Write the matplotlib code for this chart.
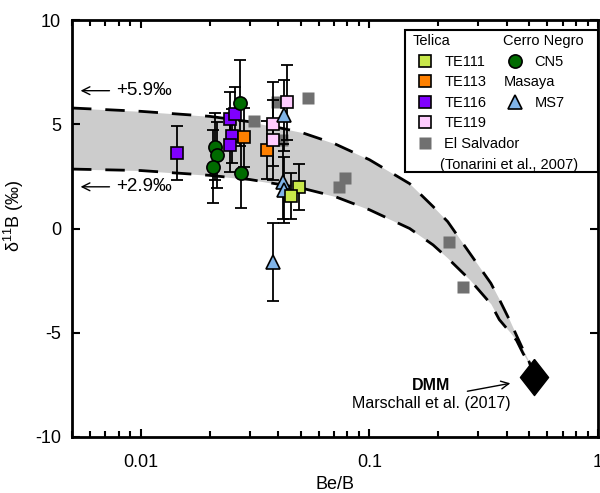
import matplotlib
matplotlib.use("Agg")
import matplotlib.pyplot as plt
from matplotlib.lines import Line2D
from matplotlib.patches import Rectangle
from matplotlib.ticker import FixedLocator, FixedFormatter, LogLocator, NullFormatter

plt.rcParams['font.family'] = ['Liberation Sans', 'DejaVu Sans']
plt.rcParams['mathtext.fontset'] = 'custom'
plt.rcParams['mathtext.rm'] = 'Liberation Sans'
plt.rcParams['mathtext.it'] = 'Liberation Sans:italic'
plt.rcParams['mathtext.bf'] = 'Liberation Sans:bold'

# mixing envelope
mix_x = [0.005, 0.01, 0.02, 0.03, 0.05, 0.07, 0.1, 0.15, 0.19, 0.22, 0.275,
         0.34, 0.37, 0.41, 0.44, 0.47, 0.5, 0.524]
mix_hi = [5.78, 5.62, 5.38, 5.12, 4.62, 4.08, 3.3, 2.15, 1.05, 0.33, -1.19,
          -2.63, -3.4, -4.39, -5.13, -5.81, -6.4, -7.05]
mix_lo = [2.85, 2.78, 2.55, 2.35, 1.95, 1.55, 0.9, 0.0, -0.79, -1.42, -2.46,
          -3.62, -4.37, -4.95, -5.36, -5.99, -6.5, -7.05]

# Telica
te111_x = [0.0493, 0.0456]
te111_y = [2.0, 1.57]
te111_err = [1.1, 1.1]
te113_x = [0.0283, 0.0355]
te113_y = [4.37, 3.77]
te113_err = [1.4, 1.4]
te116_x = [0.0144, 0.0245, 0.0257, 0.0250, 0.0245]
te116_y = [3.61, 5.24, 5.48, 4.44, 4.0]
te116_err = [1.3, 1.3, 1.3, 1.3, 1.3]
te119_x = [0.0438, 0.0379, 0.0377]
te119_y = [6.05, 5.01, 4.24]
te119_err = [1.8, 2.0, 1.9]
# Cerro Negro
cn5_x = [0.0211, 0.0215, 0.0206, 0.0272, 0.0275]
cn5_y = [3.92, 3.53, 2.96, 6.03, 2.68]
cn5_err = [1.6, 1.6, 1.75, 2.05, 1.7]
# Masaya
ms7_x = [0.0423, 0.0417, 0.0423, 0.038]
ms7_y = [5.44, 2.25, 1.85, -1.59]
ms7_err = [1.7, 1.8, 1.6, 1.87]
# El Salvador (Tonarini et al., 2007)
els_x = [0.0313, 0.0396, 0.0416, 0.0537, 0.0733, 0.0785, 0.223, 0.256]
els_y = [5.17, 6.08, 4.24, 6.24, 2.0, 2.41, -0.66, -2.82]
# DMM (Marschall et al., 2017)
dmm_x = [0.524]
dmm_y = [-7.12]

c111 = '#c8e84a'
c113 = '#ff8000'
c116 = '#8000ff'
c119 = '#ffccff'
ccn = '#006b00'
cms = '#80b4e8'
cels = '#707070'

fig = plt.figure(figsize=(6, 4.93), dpi=100)
ax = fig.add_axes([0.12, 0.1136, 0.8767, 0.8458])

ax.fill_between(mix_x, mix_lo, mix_hi, color='#cccccc', lw=0, zorder=1)
ax.plot(mix_x, mix_hi, color='k', lw=2, dashes=(7, 5), zorder=2)
ax.plot(mix_x, mix_lo, color='k', lw=2, dashes=(7, 5), zorder=2)

ax.plot(els_x, els_y, ls='none', marker='s', ms=8.6, mfc=cels, mec='none', zorder=3)

eb = dict(fmt='none', ecolor='k', elinewidth=1.3, capsize=4, capthick=1.3, zorder=4)
for xs, ys, es in [(te116_x, te116_y, te116_err), (cn5_x, cn5_y, cn5_err),
                   (te113_x, te113_y, te113_err), (te119_x, te119_y, te119_err),
                   (ms7_x, ms7_y, ms7_err), (te111_x, te111_y, te111_err)]:
    ax.errorbar(xs, ys, yerr=es, **eb)

mk = dict(ls='none', mec='k', mew=1.2, zorder=5)
ax.plot(te116_x, te116_y, marker='s', ms=8, mfc=c116, **mk)
ax.plot(cn5_x, cn5_y, marker='o', ms=9.5, mfc=ccn, **mk)
ax.plot(te113_x, te113_y, marker='s', ms=8, mfc=c113, **mk)
ax.plot(te119_x, te119_y, marker='s', ms=8, mfc=c119, **mk)
ax.plot(ms7_x, ms7_y, marker='^', ms=10, mfc=cms, **mk)
ax.plot(te111_x, te111_y, marker='s', ms=8, mfc=c111, **mk)

diamond = [(0, 1), (0.78, 0), (0, -1), (-0.78, 0), (0, 1)]
ax.plot(dmm_x, dmm_y, ls='none', marker=diamond, ms=26, mfc='k', mec='k', zorder=6)

# annotations
arr = dict(arrowstyle='->', color='k', lw=1.0, mutation_scale=14)
ax.annotate('', xy=(0.0053, 6.61), xytext=(0.0075, 6.61), arrowprops=arr)
ax.text(0.0078, 6.61, '+5.9‰', fontsize=13.5, va='center', ha='left')
ax.annotate('', xy=(0.0053, 2.0), xytext=(0.0075, 2.0), arrowprops=arr)
ax.text(0.0078, 2.0, '+2.9‰', fontsize=13.5, va='center', ha='left')

ax.annotate('', xy=(0.425, -7.4), xytext=(0.261, -7.83), arrowprops=arr)
ax.text(0.187, -7.54, 'DMM', fontsize=11.5, fontweight='bold', ha='center', va='center')
ax.text(0.187, -8.38, 'Marschall et al. (2017)', fontsize=11.5, ha='center', va='center')

ax.set_xscale('log')
ax.set_xlim(0.005, 1)
ax.set_ylim(-10, 10)
ax.xaxis.set_major_locator(FixedLocator([0.01, 0.1, 1]))
ax.xaxis.set_major_formatter(FixedFormatter(['0.01', '0.1', '1']))
ax.xaxis.set_minor_locator(LogLocator(base=10, subs=range(2, 10)))
ax.xaxis.set_minor_formatter(NullFormatter())
ax.set_yticks([-10, -5, 0, 5, 10])
ax.set_yticklabels(['-10', '-5', '0', '5', '10'])
ax.tick_params(which='both', direction='in', top=True, right=True, width=1.5, labelsize=13)
ax.tick_params(which='major', length=6, pad=8)
ax.tick_params(axis='x', which='major', pad=12)
ax.tick_params(which='minor', length=4)
for s in ax.spines.values():
    s.set_linewidth(2)

ax.set_xlabel('Be/B', fontsize=13, labelpad=4)
ax.set_ylabel(r'δ$^{11}$B (‰)', fontsize=13)
ax.yaxis.set_label_coords(-0.088, 0.53)

# legend: box drawn separately, two frameless legends inside, headers moved
# back over the handle column
ax.add_patch(Rectangle((0.633, 0.6355), 0.367, 0.3405, transform=ax.transAxes,
                       fc='white', ec='k', lw=1.5, zorder=9, clip_on=False))

blank = Line2D([], [], ls='none')
def sq(c):
    return Line2D([], [], ls='none', marker='s', ms=8, mfc=c, mec='k', mew=1.2)

h1 = [blank, sq(c111), sq(c113), sq(c116), sq(c119),
      Line2D([], [], ls='none', marker='s', ms=8.6, mfc=cels, mec='none'), blank]
l1 = ['Telica', 'TE111', 'TE113', 'TE116', 'TE119', 'El Salvador', '(Tonarini et al., 2007)']
h2 = [blank, Line2D([], [], ls='none', marker='o', ms=9.5, mfc=ccn, mec='k', mew=1.2),
      blank, Line2D([], [], ls='none', marker='^', ms=10, mfc=cms, mec='k', mew=1.2)]
l2 = ['Cerro Negro', 'CN5', 'Masaya', 'MS7']

lkw = dict(fontsize=10.5, handlelength=1.6, handletextpad=0.55, labelspacing=0.45,
           borderaxespad=0, borderpad=0, frameon=False, loc='upper left')
leg1 = ax.legend(h1, l1, bbox_to_anchor=(0.648, 0.966), **lkw)
leg1.set_zorder(10)
ax.add_artist(leg1)
leg2 = ax.legend(h2, l2, bbox_to_anchor=(0.82, 0.966), **lkw)
leg2.set_zorder(11)

shift = (1.6 + 0.55) * 10.5 * 100 / 72
for lg in (leg1, leg2):
    for t in lg.get_texts():
        if t.get_text() in ('Telica', 'Cerro Negro', 'Masaya'):
            t.set_x(-shift)
        if t.get_text().startswith('(Tonarini'):
            t.set_x(-4)

fig.savefig('out.png', dpi=100)
